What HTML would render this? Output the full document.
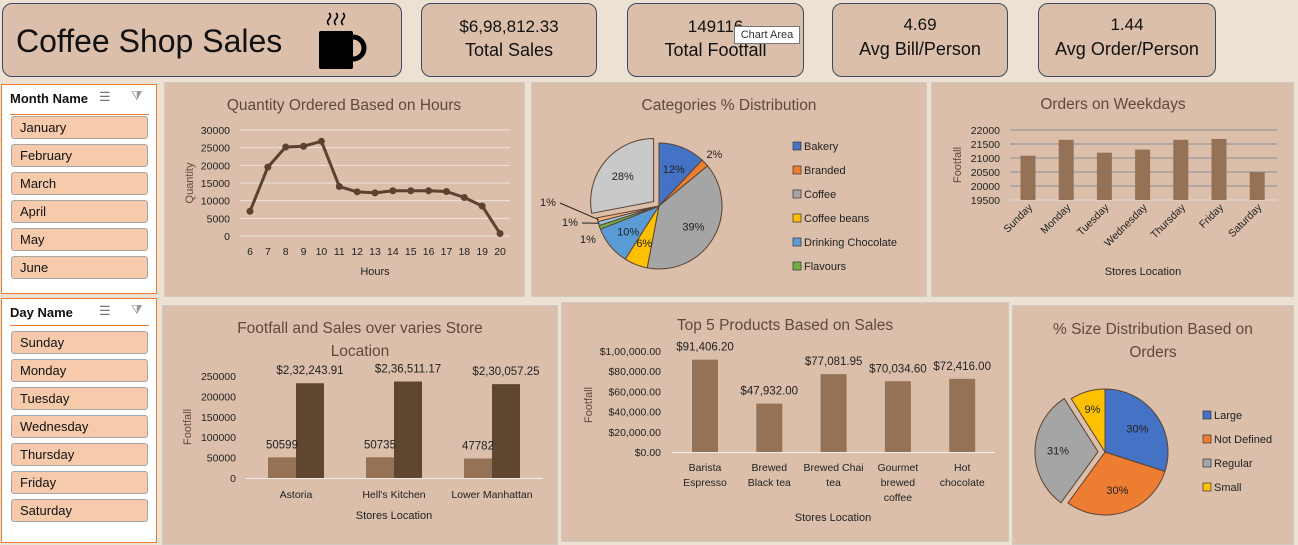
<!DOCTYPE html>
<html><head><meta charset="utf-8">
<style>
body{margin:0;width:1298px;height:539px;background:#ede1d3;font-family:"Liberation Sans",sans-serif;position:relative;overflow:hidden}
.box{position:absolute;background:#dbbfaa;border:1px solid #3d4a66;border-radius:10px;box-sizing:border-box;text-align:center;color:#111}
.panel{position:absolute;background:#dbbfaa;border:1px solid #d0c9c0;box-sizing:border-box}
.sl{position:absolute;background:#fff;border:1px solid #ed7d31;box-sizing:border-box}
.it{position:absolute;left:9px;width:137px;height:23px;background:#f7caac;border:1px solid #a6a6a6;border-radius:3px;box-sizing:border-box;font-size:13px;line-height:22px;padding-left:8px;color:#111}
.sh{position:absolute;left:8px;top:6px;font-size:13px;font-weight:bold;color:#111}
svg{position:absolute;left:0;top:0}
</style></head><body>
<div class="box" style="left:2px;top:3px;width:400px;height:74px;text-align:left">
 <div style="position:absolute;left:13px;top:19px;font-size:32px">Coffee Shop Sales</div>
 <svg width="400" height="74"><rect x="316" y="27" width="34" height="38" rx="2" fill="#000"/><path d="M350 33 a10 10 0 0 1 0 22" stroke="#000" stroke-width="5" fill="none"/><path d="M326 21 q-3 -3 0 -6 q3 -3 0 -6 M333 21 q-3 -3 0 -6 q3 -3 0 -6 M340 21 q-3 -3 0 -6 q3 -3 0 -6" stroke="#000" stroke-width="1.6" fill="none"/></svg>
</div>
<div class="box" style="left:421px;top:3px;width:176px;height:74px"><div style="margin-top:13px;font-size:17px">$6,98,812.33</div><div style="font-size:18px;margin-top:3px">Total Sales</div></div>
<div class="box" style="left:627px;top:3px;width:177px;height:74px"><div style="margin-top:13px;font-size:17px">149116</div><div style="font-size:18px;margin-top:3px">Total Footfall</div></div>
<div class="box" style="left:832px;top:3px;width:176px;height:74px"><div style="margin-top:11px;font-size:17px">4.69</div><div style="font-size:18px;margin-top:4px">Avg Bill/Person</div></div>
<div class="box" style="left:1038px;top:3px;width:178px;height:74px"><div style="margin-top:11px;font-size:17px">1.44</div><div style="font-size:18px;margin-top:4px">Avg Order/Person</div></div>
<div style="position:absolute;left:734px;top:26px;width:66px;height:18px;background:#fff;border:1px solid #777;font-size:11px;line-height:17px;text-align:center;color:#333;box-sizing:border-box">Chart Area</div>

<div class="sl" style="left:1px;top:84px;width:156px;height:210px">
 <div class="sh">Month Name</div><div style="position:absolute;left:97px;top:4px;font-size:13px;color:#777">☰</div><div style="position:absolute;left:129px;top:3px;font-size:13px;color:#999">⧩</div>
 <div style="position:absolute;left:8px;top:29px;width:139px;height:1px;background:#ed7d31"></div>
 <div class="it" style="top:31px">January</div>
 <div class="it" style="top:59px">February</div>
 <div class="it" style="top:87px">March</div>
 <div class="it" style="top:115px">April</div>
 <div class="it" style="top:143px">May</div>
 <div class="it" style="top:171px">June</div>
</div>
<div class="sl" style="left:1px;top:298px;width:156px;height:245px">
 <div class="sh">Day Name</div><div style="position:absolute;left:97px;top:4px;font-size:13px;color:#777">☰</div><div style="position:absolute;left:129px;top:3px;font-size:13px;color:#999">⧩</div>
 <div style="position:absolute;left:8px;top:26px;width:139px;height:1px;background:#ed7d31"></div>
 <div class="it" style="top:32px">Sunday</div>
 <div class="it" style="top:60px">Monday</div>
 <div class="it" style="top:88px">Tuesday</div>
 <div class="it" style="top:116px">Wednesday</div>
 <div class="it" style="top:144px">Thursday</div>
 <div class="it" style="top:172px">Friday</div>
 <div class="it" style="top:200px">Saturday</div>
</div>

<div class="panel" style="left:164px;top:82px;width:361px;height:215px"></div>
<div class="panel" style="left:531px;top:82px;width:396px;height:215px"></div>
<div class="panel" style="left:931px;top:82px;width:363px;height:215px"></div>
<div class="panel" style="left:162px;top:305px;width:396px;height:240px"></div>
<div class="panel" style="left:561px;top:302px;width:448px;height:240px"></div>
<div class="panel" style="left:1012px;top:305px;width:282px;height:240px"></div>

<svg id="s" width="1298" height="539" font-family="Liberation Sans, sans-serif"></svg>
<script>
const hours=[6,7,8,9,10,11,12,13,14,15,16,17,18,19,20];
const qty=[7000,19500,25200,25400,26800,14000,12500,12200,12800,12800,12800,12600,10900,8500,700];
const qtyTicks=[0,5000,10000,15000,20000,25000,30000];
const catNames=["Bakery","Branded","Coffee","Coffee beans","Drinking Chocolate","Flavours","Loose Tea","Packaged Chocolate","Tea"];
const catPct=[12,2,39,6,10,1,1,1,28];
const days=["Sunday","Monday","Tuesday","Wednesday","Thursday","Friday","Saturday"];
const dayOrders=[21080,21650,21190,21300,21650,21680,20500];
const dayTicks=[19500,20000,20500,21000,21500,22000];
const stores=["Astoria","Hell's Kitchen","Lower Manhattan"];
const storeFootfall=[50599,50735,47782];
const storeSales=[232243.91,236511.17,230057.25];
const storeSalesLbl=["$2,32,243.91","$2,36,511.17","$2,30,057.25"];
const storeTicks=[0,50000,100000,150000,200000,250000];
const products=[["Barista","Espresso"],["Brewed","Black tea"],["Brewed Chai","tea"],["Gourmet","brewed","coffee"],["Hot","chocolate"]];
const prodSales=[91406.20,47932.00,77081.95,70034.60,72416.00];
const prodLbl=["$91,406.20","$47,932.00","$77,081.95","$70,034.60","$72,416.00"];
const prodTicks=["$0.00","$20,000.00","$40,000.00","$60,000.00","$80,000.00","$1,00,000.00"];
const sizes=["Large","Not Defined","Regular","Small"];
const sizePct=[30,30,31,9];

const S=document.getElementById('s');const NS='http://www.w3.org/2000/svg';
function el(t,a,txt){const e=document.createElementNS(NS,t);for(const k in a)e.setAttribute(k,a[k]);if(txt!==undefined)e.textContent=txt;S.appendChild(e);return e;}
function T(x,y,s,o){return el('text',Object.assign({x:x,y:y,'font-size':11,fill:'#222'},o||{}),s);}
const TC='#5e4a3d',BAR='#957256';

let e;
e=T(344,110,"Quantity Ordered Based on Hours",{'font-size':15.5,fill:TC,'text-anchor':'middle'});


const y1=v=>236-v/30000*106, x1=h=>250+(h-6)*17.86;
qtyTicks.forEach(t=>{el('line',{x1:240,x2:510,y1:y1(t),y2:y1(t),stroke:'#eee3da','stroke-width':1});T(230,y1(t)+4,t,{'text-anchor':'end','font-size':10.5});});
hours.forEach(h=>T(x1(h),255,h,{'text-anchor':'middle','font-size':10.5}));
T(375,275,"Hours",{'text-anchor':'middle'});
T(0,0,"Quantity",{'text-anchor':'middle',fill:TC,transform:'translate(193,183) rotate(-90)'});
e=el('polyline',{points:hours.map((h,i)=>x1(h)+','+y1(qty[i])).join(' '),fill:'none',stroke:'#5b4330','stroke-width':3});


hours.forEach((h,i)=>{const c=el('circle',{cx:x1(h),cy:y1(qty[i]),r:3.5,fill:'#5b4330'});});

function pie(cx,cy,r,vals,cols,explode,labelFn,name){
 const tot=vals.reduce((a,b)=>a+b,0);let a0=0;
 vals.forEach((v,i)=>{const a1=a0+v/tot*2*Math.PI;const m=(a0+a1)/2;let ox=0,oy=0;if(i===explode){ox=Math.sin(m)*7;oy=-Math.cos(m)*7;}
  const X=a=>cx+ox+r*Math.sin(a),Y=a=>cy+oy-r*Math.cos(a);
  const p=el('path',{d:`M${cx+ox},${cy+oy} L${X(a0)},${Y(a0)} A${r},${r} 0 ${a1-a0>Math.PI?1:0} 1 ${X(a1)},${Y(a1)} Z`,fill:cols[i],stroke:'#5b4330','stroke-width':1});
  
  
  labelFn(i,v,m,cx+ox,cy+oy);a0=a1;});
}
T(729,110,"Categories % Distribution",{'font-size':15.5,fill:TC,'text-anchor':'middle'});
const catCols=['#4472c4','#ed7d31','#a5a5a5','#ffc000','#5b9bd5','#70ad47','#9dc3e6','#f4b183','#c9c9c9'];
let small=0;
pie(659,206,63,catPct,catCols,8,(i,v,m,cx,cy)=>{
 if(v>=5){T(cx+Math.sin(m)*40,cy-Math.cos(m)*40+4,v+'%',{'text-anchor':'middle'});}
 else if(i===1){T(cx+Math.sin(m)*76,cy-Math.cos(m)*76+4,v+'%',{'text-anchor':'middle'});}
 else {const lx=[588,570,548][small],ly=[243,226,206][small];T(lx,ly,v+'%',{'text-anchor':'middle'});
  if(small>0){el('line',{x1:lx+12,y1:ly-3,x2:cx+Math.sin(m)*62,y2:cy-Math.cos(m)*62,stroke:'#222','stroke-width':1});}small++;}
},'category');
catNames.slice(0,6).forEach((n,i)=>{el('rect',{x:793,y:142+i*24,width:8,height:8,fill:catCols[i],stroke:'#333','stroke-width':0.7});T(804,150+i*24,n);});

T(1113,109,"Orders on Weekdays",{'font-size':15.5,fill:TC,'text-anchor':'middle'});
const y3=v=>200-(v-19500)/2500*70, x3=i=>1028+i*38.2;
dayTicks.forEach(t=>{el('line',{x1:1010,x2:1277,y1:y3(t),y2:y3(t),stroke:t===19500?'#ddd':'#8a8f96','stroke-width':1});T(1000,y3(t)+4,t,{'text-anchor':'end','font-size':10.5});});
days.forEach((d,i)=>{const r=el('rect',{x:x3(i)-7.5,y:y3(dayOrders[i]),width:15,height:200-y3(dayOrders[i]),fill:BAR});
 T(0,0,d,{'text-anchor':'end','font-size':10.5,transform:`translate(${x3(i)+5},${208}) rotate(-45)`});});
T(1143,275,"Stores Location",{'text-anchor':'middle'});
T(0,0,"Footfall",{'text-anchor':'middle',fill:TC,transform:'translate(961,165) rotate(-90)'});

T(360,333,"Footfall and Sales over varies Store",{'font-size':15.5,fill:TC,'text-anchor':'middle'});
T(360,356,"Location",{'font-size':15.5,fill:TC,'text-anchor':'middle'});
const y4=v=>478-v/250000*102, x4=i=>296+i*98;
storeTicks.forEach(t=>T(236,y4(t)+4,t,{'text-anchor':'end','font-size':10.5}));
el('line',{x1:246,x2:543,y1:478.5,y2:478.5,stroke:'#eee','stroke-width':1});
stores.forEach((s,i)=>{
 let r=el('rect',{x:x4(i)-28,y:y4(storeFootfall[i]),width:28,height:478-y4(storeFootfall[i]),fill:BAR});
 r=el('rect',{x:x4(i),y:y4(storeSales[i]),width:28,height:478-y4(storeSales[i]),fill:'#5f4631'});
 T(x4(i)-14,y4(storeFootfall[i])-9,storeFootfall[i],{'text-anchor':'middle','font-size':11.5});
 T(x4(i)+14,y4(storeSales[i])-9,storeSalesLbl[i],{'text-anchor':'middle','font-size':11.5});
 T(x4(i),498,s,{'text-anchor':'middle','font-size':10.5});});
T(394,519,"Stores Location",{'text-anchor':'middle'});
T(0,0,"Footfall",{'text-anchor':'middle',fill:TC,transform:'translate(191,427) rotate(-90)'});

T(785,330,"Top 5 Products Based on Sales",{'font-size':15.5,fill:TC,'text-anchor':'middle'});
const y5=v=>452-v/100000*101, x5=i=>705+i*64.3;
prodTicks.forEach((t,i)=>T(661,y5(i*20000)+4,t,{'text-anchor':'end','font-size':10.5}));
el('line',{x1:672,x2:995,y1:452.5,y2:452.5,stroke:'#eee','stroke-width':1});
products.forEach((p,i)=>{const r=el('rect',{x:x5(i)-13,y:y5(prodSales[i]),width:26,height:452-y5(prodSales[i]),fill:BAR});
 T(x5(i),y5(prodSales[i])-9,prodLbl[i],{'text-anchor':'middle','font-size':11.5});
 p.forEach((l,j)=>T(x5(i),471+j*15,l,{'text-anchor':'middle','font-size':10.5}));});
T(833,521,"Stores Location",{'text-anchor':'middle'});
T(0,0,"Footfall",{'text-anchor':'middle',fill:TC,transform:'translate(592,405) rotate(-90)'});

T(1153,334,"% Size Distribution Based on",{'font-size':15.5,fill:TC,'text-anchor':'middle'});
T(1153,357,"Orders",{'font-size':15.5,fill:TC,'text-anchor':'middle'});
const sizeCols=['#4472c4','#ed7d31','#a5a5a5','#ffc000'];
pie(1105,452,63,sizePct,sizeCols,2,(i,v,m,cx,cy)=>{T(cx+Math.sin(m)*(v<15?45:40),cy-Math.cos(m)*(v<15?45:40)+4,v+'%',{'text-anchor':'middle'});},'size');
sizes.forEach((n,i)=>{el('rect',{x:1203,y:411+i*24,width:8,height:8,fill:sizeCols[i],stroke:'#333','stroke-width':0.7});T(1214,419+i*24,n);});
</script>
</body></html>
